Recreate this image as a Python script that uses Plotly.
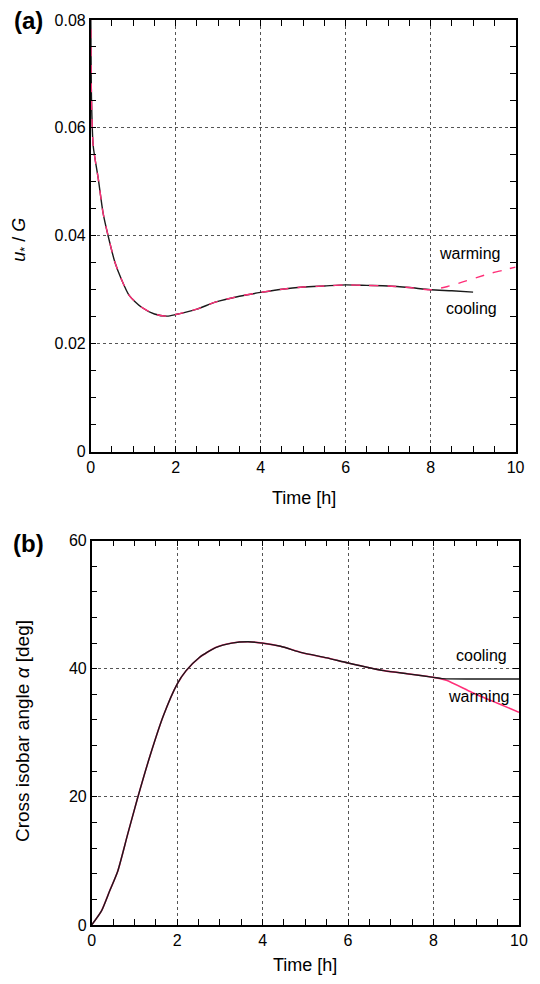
import plotly.graph_objects as go

# ---------------- data ----------------
# Panel (a): u*/G vs time
ta_common = [0.0, 0.02, 0.06, 0.18, 0.29, 0.41, 0.57, 0.72, 0.91, 1.19, 1.5, 1.8, 2.0,
             2.5, 2.93, 3.5, 4.0, 4.5, 5.0, 5.5, 6.0, 6.5, 7.0, 7.5, 8.0]
ua_common = [0.085, 0.065, 0.0566, 0.0505, 0.0443, 0.0400, 0.0351, 0.0320, 0.0289, 0.0268,
             0.0255, 0.0251, 0.0254, 0.0264, 0.0277, 0.0288, 0.0295, 0.0301, 0.0305, 0.0307,
             0.0309, 0.0308, 0.0307, 0.0304, 0.0300]
ta_cool = [8.0, 8.5, 9.0]
ua_cool = [0.0300, 0.0298, 0.02955]
ta_warm = [8.0, 8.4, 8.74, 9.1, 9.44, 9.7, 10.0]
ua_warm = [0.0300, 0.0306, 0.0314, 0.0323, 0.0331, 0.0336, 0.0342]

# Panel (b): cross isobar angle vs time
tb_common = [0.0, 0.23, 0.42, 0.61, 0.84, 1.07, 1.37, 1.68, 2.0, 2.21, 2.52, 2.9, 3.28,
             3.66, 4.0, 4.42, 4.92, 5.5, 6.0, 6.84, 7.4, 8.0]
ab_common = [0.0, 2.2, 5.3, 8.4, 14.1, 19.7, 26.5, 32.7, 37.6, 39.7, 41.75, 43.3, 44.0,
             44.2, 44.0, 43.5, 42.5, 41.7, 40.9, 39.7, 39.2, 38.65]
tb_cool = [8.0, 8.2, 10.0]
ab_cool = [38.65, 38.45, 38.4]
tb_warm = [8.0, 8.3, 8.9, 9.5, 10.0]
ab_warm = [38.65, 38.2, 36.3, 34.6, 33.2]

xticks = [0, 2, 4, 6, 8, 10]
ya_ticks = [0, 0.02, 0.04, 0.06, 0.08]
ya_ticktext = ["0", "0.02", "0.04", "0.06", "0.08"]
yb_ticks = [0, 20, 40, 60]

PINK = "#ff2f78"
BLACK = "#1a1a1a"
FONT = "Liberation Sans, Arial, Helvetica, sans-serif"

fig = go.Figure()

# panel (a)
fig.add_trace(go.Scatter(x=ta_common + ta_cool[1:], y=ua_common + ua_cool[1:], mode="lines",
                         line=dict(color=BLACK, width=1.4, shape="spline", smoothing=0.6),
                         xaxis="x", yaxis="y", showlegend=False))
fig.add_trace(go.Scatter(x=ta_common + ta_warm[1:], y=ua_common + ua_warm[1:], mode="lines",
                         line=dict(color=PINK, width=1.4, dash="dash", shape="spline", smoothing=0.6),
                         xaxis="x", yaxis="y", showlegend=False))

# panel (b)
fig.add_trace(go.Scatter(x=tb_common + tb_warm[1:], y=ab_common + ab_warm[1:], mode="lines",
                         line=dict(color=PINK, width=1.6, shape="spline", smoothing=0.6),
                         xaxis="x2", yaxis="y2", showlegend=False))
fig.add_trace(go.Scatter(x=tb_common + tb_cool[1:], y=ab_common + ab_cool[1:], mode="lines",
                         line=dict(color=BLACK, width=1.4, shape="spline", smoothing=0.6),
                         xaxis="x2", yaxis="y2", showlegend=False))

W, H = 540, 984
ML, MR, MT, MB = 90, 12, 17, 59
PW, PH = W - ML - MR, H - MT - MB


def dx(x):
    # domain fraction (clamped)
    return min(1.0, max(0.0, (x - ML) / PW))


def dy(y):
    return min(1.0, max(0.0, (H - MB - y) / PH))


def fx(x):
    # paper coordinate for annotations (may lie outside [0, 1])
    return (x - ML) / PW


def fy(y):
    return (H - MB - y) / PH


axis_common = dict(
    showline=True, linecolor="black", linewidth=1.5, mirror="allticks",
    ticks="inside", ticklen=6, tickcolor="black", tickwidth=1.2,
    showgrid=True, gridcolor="#555", griddash="dot", gridwidth=1,
    zeroline=False,
    tickfont=dict(family=FONT, size=16, color="black"),
)
minor_common = dict(ticks="inside", ticklen=6, tickcolor="black", tickwidth=1.2, showgrid=False)

fig.update_layout(
    width=W, height=H,
    margin=dict(l=ML, r=MR, t=MT, b=MB),
    paper_bgcolor="white", plot_bgcolor="white",
    font=dict(family=FONT, color="black"),
    xaxis=dict(domain=[dx(90.7), dx(524.5)], range=[0, 10], tickvals=xticks, anchor="y",
               minor=dict(dtick=0.5, **minor_common), **axis_common),
    yaxis=dict(domain=[dy(450), dy(17)], range=[0, 0.08], tickvals=ya_ticks,
               ticktext=ya_ticktext, anchor="x",
               minor=dict(dtick=0.005, **minor_common), **axis_common),
    xaxis2=dict(domain=[dx(91.7), dx(528.3)], range=[0, 10], tickvals=xticks, anchor="y2",
                minor=dict(dtick=0.5, **minor_common), **axis_common),
    yaxis2=dict(domain=[dy(925), dy(539.3)], range=[0, 60], tickvals=yb_ticks, anchor="x2",
                minor=dict(dtick=4, **minor_common), **axis_common),
)

annots_xy = [
    ("<b>(a)</b>", 27, 17, 24),
    ("<b>(b)</b>", 27, 542, 24),
    ("Time [h]", 308, 497, 18),
    ("Time [h]", 310, 965, 18),
    ("warming", 477, 251, 16),
    ("cooling", 480, 306, 16),
    ("cooling", 490, 655, 16),
    ("warming", 487, 696, 16),
]
for text, xx, yy, size in annots_xy:
    fig.add_annotation(text=text, x=fx(xx), y=fy(yy), xref="paper", yref="paper",
                       xanchor="center", yanchor="middle", showarrow=False,
                       font=dict(family=FONT, size=size, color="black"))

fig.add_annotation(text="<i>u</i><sub>*</sub> / <i>G</i>", x=fx(19), y=fy(237),
                   xref="paper", yref="paper", xanchor="center", yanchor="middle",
                   showarrow=False, textangle=-90,
                   font=dict(family=FONT, size=18, color="black"))
fig.add_annotation(text="Cross isobar angle <i>α</i> [deg]", x=fx(21), y=fy(730),
                   xref="paper", yref="paper", xanchor="center", yanchor="middle",
                   showarrow=False, textangle=-90,
                   font=dict(family=FONT, size=19, color="black"))

fig.write_html("out.html")
